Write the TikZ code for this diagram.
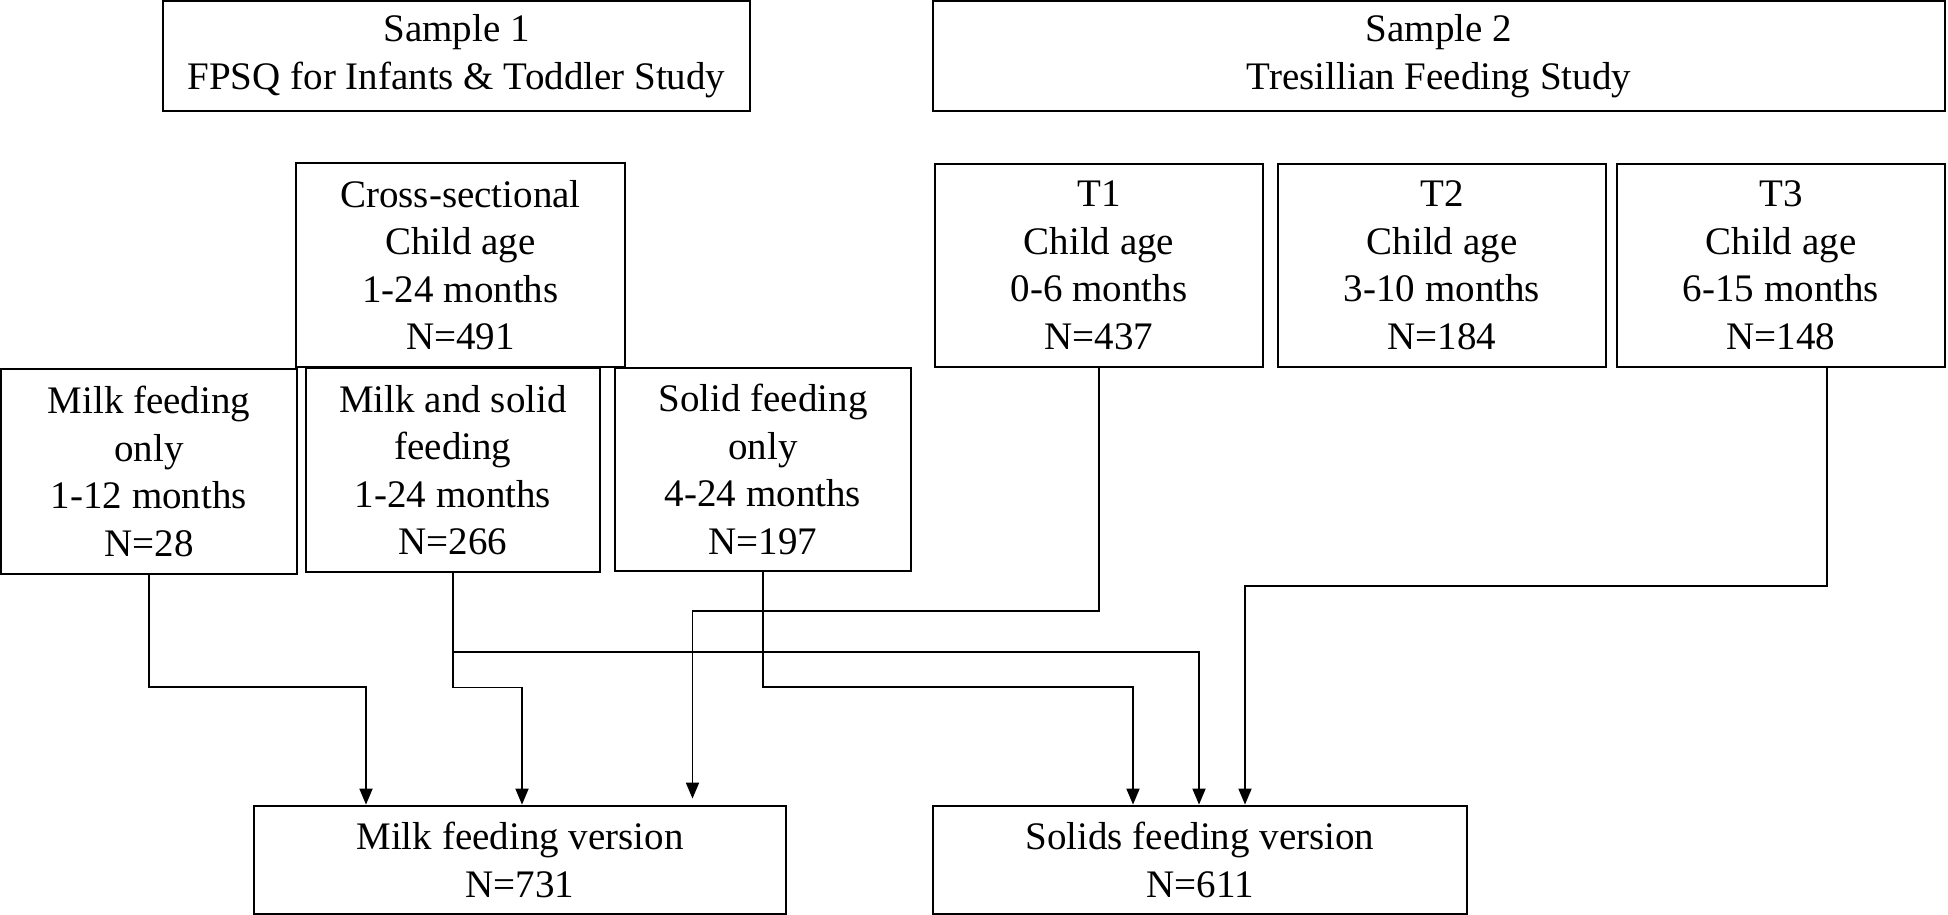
\documentclass[tikz,border=0pt]{standalone}
\usepackage{fontspec}
\setmainfont{Liberation Serif}
\usetikzlibrary{arrows.meta}
\begin{document}
\begin{tikzpicture}[x=0.5pt,y=-0.5pt,
  box/.style={draw,line width=1.4pt,align=center,inner sep=0pt,
    font=\fontsize{19.5}{23.75}\selectfont},
  arr/.style={line width=0.9pt,-{Triangle[length=8pt,width=6.5pt]}},
  ln/.style={line width=0.9pt}]
\useasboundingbox (0,0) rectangle (1948,915);
\node[box,minimum width=293.5pt,minimum height=55pt] (S1) at (456.5,56) {Sample 1\\FPSQ for Infants \& Toddler Study};
\node[box,minimum width=506pt,minimum height=55pt] (S2) at (1439,56) {Sample 2\\Tresillian Feeding Study};
\node[box,minimum width=164.5pt,minimum height=102pt] (CS) at (460.5,265) {Cross-sectional\\Child age\\1-24 months\\N=491};
\node[box,minimum width=164pt,minimum height=101.5pt] (T1) at (1099,265.5) {T1\\Child age\\0-6 months\\N=437};
\node[box,minimum width=164pt,minimum height=101.5pt] (T2) at (1442,265.5) {T2\\Child age\\3-10 months\\N=184};
\node[box,minimum width=164pt,minimum height=101.5pt] (T3) at (1781,265.5) {T3\\Child age\\6-15 months\\N=148};
\node[box,minimum width=148pt,minimum height=102.5pt] (MO) at (149,471.5) {Milk feeding\\only\\1-12 months\\N=28};
\node[box,minimum width=147pt,minimum height=102pt] (MS) at (453,470) {Milk and solid\\feeding\\1-24 months\\N=266};
\node[box,minimum width=148pt,minimum height=101.5pt] (SO) at (763,469.5) {Solid feeding\\only\\4-24 months\\N=197};
\node[box,minimum width=266pt,minimum height=54pt] (MV) at (520,860) {Milk feeding version\\N=731};
\node[box,minimum width=267pt,minimum height=54pt] (SV) at (1200,860) {Solids feeding version\\N=611};
% connectors
\coordinate (m1) at (366,687);
\draw[arr] (MO.south) |- (m1) -- (m1 |- MV.north);
\coordinate (m2) at (522,687.5);
\draw[arr] (MS.south) |- (m2) -- (m2 |- MV.north);
\coordinate (s2) at (1199,652);
\draw[arr] (MS.south |- s2) -- (s2) -- (s2 |- SV.north);
\coordinate (s3) at (1133,687);
\draw[arr] (SO.south) |- (s3) -- (s3 |- SV.north);
\coordinate (m4) at (692.5,611);
\draw[arr] (T1.south) |- (m4) -- ([yshift=3pt]m4 |- MV.north);
\coordinate (t3) at (1827,586);
\coordinate (s5) at (1245,586);
\draw[arr] (t3 |- T3.south) -- (t3) -- (s5) -- (s5 |- SV.north);
\end{tikzpicture}
\end{document}
